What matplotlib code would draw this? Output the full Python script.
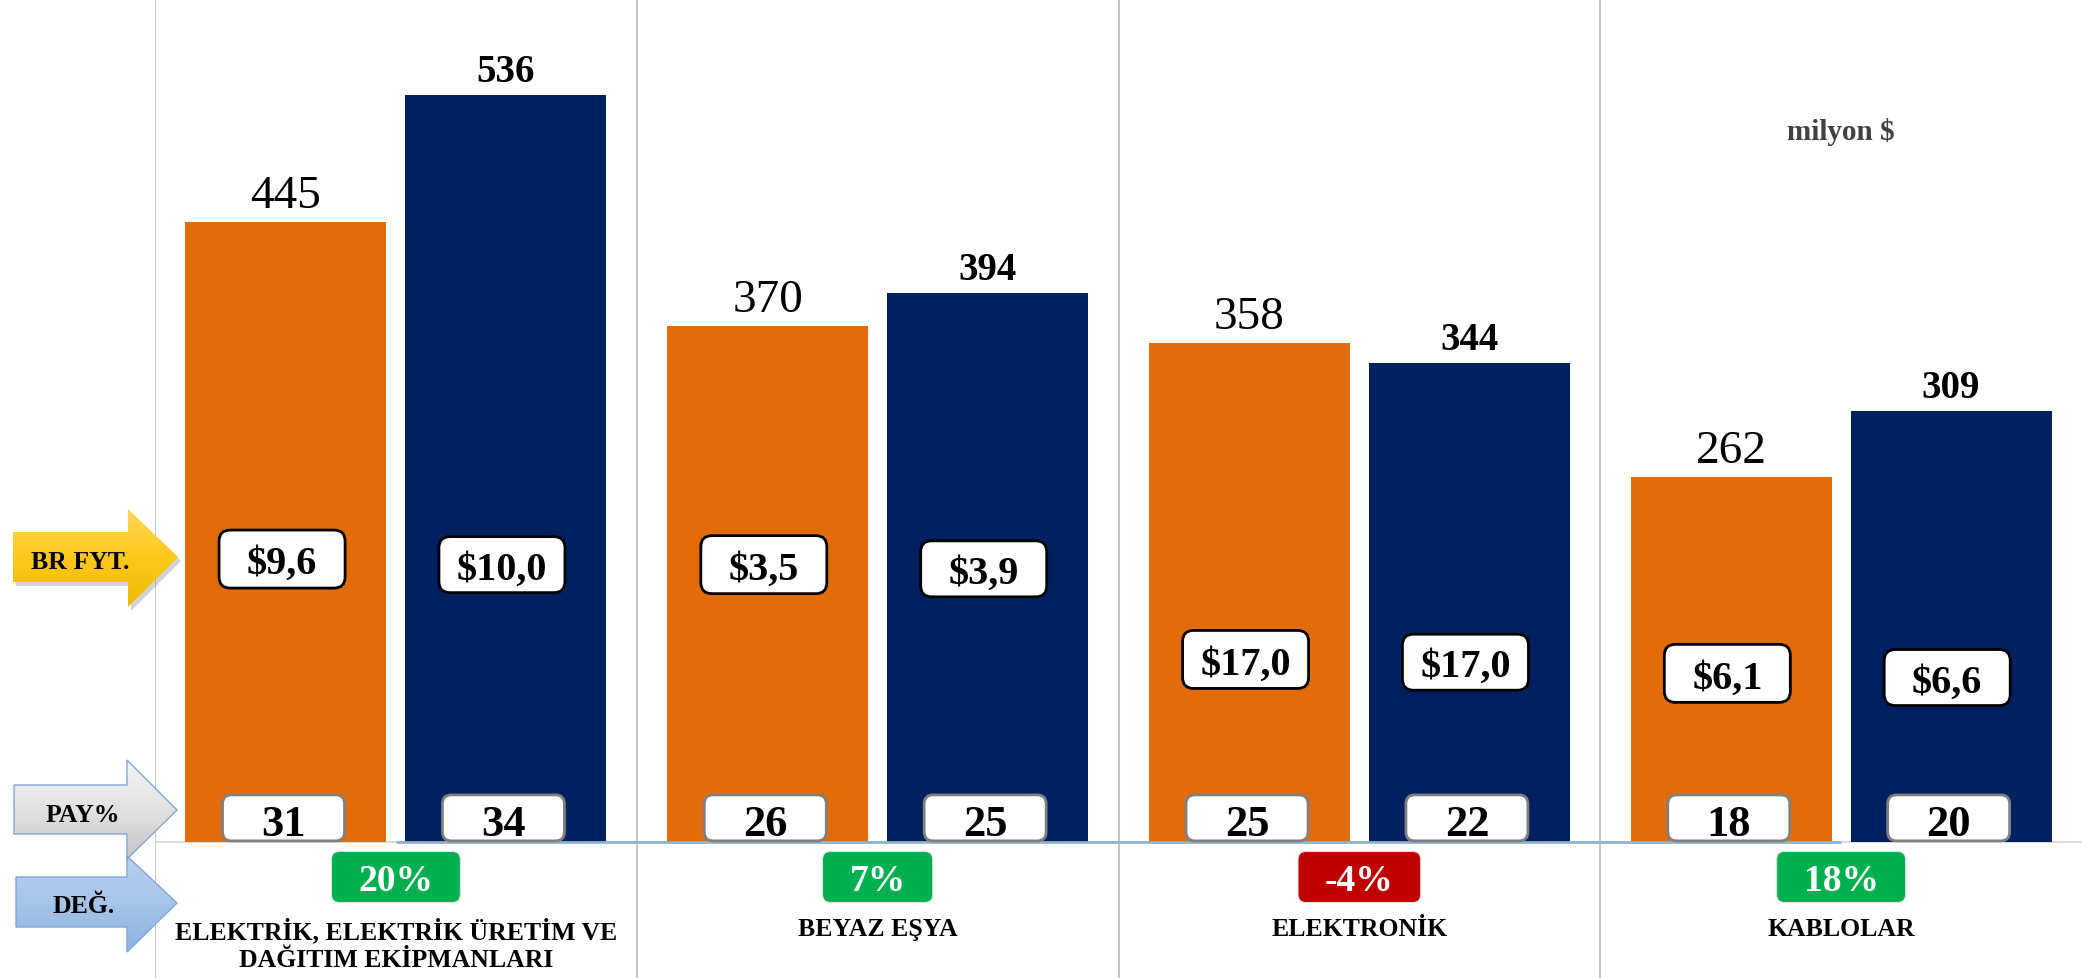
import numpy as np
import matplotlib
matplotlib.use("Agg")
import matplotlib.pyplot as plt
from matplotlib.patches import FancyBboxPatch, Polygon
from matplotlib.colors import LinearSegmentedColormap

# ---------------- data ----------------
categories = ["ELEKTRİK, ELEKTRİK ÜRETİM VE\nDAĞITIM EKİPMANLARI", "BEYAZ EŞYA",
              "ELEKTRONİK", "KABLOLAR"]
values_prev = [445, 370, 358, 262]
values_curr = [536, 394, 344, 309]
unit_price_prev = [9.6, 3.5, 17.0, 6.1]
unit_price_curr = [10.0, 3.9, 17.0, 6.6]
share_prev = [31, 26, 25, 18]
share_curr = [34, 25, 22, 20]
change_pct = [20, 7, -4, 18]
unit_note = "milyon $"
row_labels = ["BR FYT.", "PAY%", "DEĞ."]

# ---------------- layout (positions of label boxes, data units) ----------------
price_y_prev = [203, 199, 131, 121]
price_y_curr = [199, 196, 129, 118]
share_y = 17.3
change_y = -25.1

W, H = 2082, 979
SERIF = ["Liberation Serif", "DejaVu Serif"]
ORANGE = "#E36C0A"
NAVY = "#002060"

fig = plt.figure(figsize=(W / 100, H / 100), dpi=100)
ax = fig.add_axes([155 / W, 0, 1 - 155 / W, 1])
ax.set_xlim(-0.5, 3.5)
ax.set_ylim(-97.58, 604.86)
ax.axis("off")

x = np.arange(len(categories))
bw = 0.417
off = 0.2282

ax.bar(x - off, values_prev, width=bw, color=ORANGE, zorder=2)
ax.bar(x + off, values_curr, width=bw, color=NAVY, zorder=2)

# separators and baselines
for b in np.arange(-0.5, 3.5, 1.0):
    ax.axvline(b, color="#BFBFBF", lw=1.3, zorder=1)
ax.axhline(0, color="#D9D9D9", lw=1.3, zorder=1)
ax.plot([x[0], x[-1]], [0, 0], color="#8EB4CB", lw=2, zorder=3, solid_capstyle="butt")

# pixel scale
p0 = ax.transData.transform((0, 0))
p1 = ax.transData.transform((1, 1))
pxx = p1[0] - p0[0]
pxy = p1[1] - p0[1]


def rbox(xc, yc, w_px, h_px, r_px, fc, ec, lw, z):
    w = w_px / pxx
    h = h_px / pxy
    p = FancyBboxPatch((xc - w / 2, yc - h / 2), w, h,
                       boxstyle=f"round,pad=0,rounding_size={r_px / pxx}",
                       mutation_aspect=pxx / pxy, fc=fc, ec=ec, lw=lw, zorder=z)
    ax.add_patch(p)
    return p


# value labels
for xi, v in zip(x, values_prev):
    ax.annotate(f"{v}", (xi - off, v), xytext=(0, 15), textcoords="offset pixels",
                ha="center", va="baseline", fontsize=34, family=SERIF, color="black")
for xi, v in zip(x, values_curr):
    ax.annotate(f"{v}", (xi + off, v), xytext=(0, 14), textcoords="offset pixels",
                ha="center", va="baseline", fontsize=28, family=SERIF,
                fontweight="bold", color="black")


def fmt_price(p):
    return "$" + f"{p:.1f}".replace(".", ",")


# unit price boxes
for xi, p, yy in zip(x, unit_price_prev, price_y_prev):
    rbox(xi - off - 0.008, yy, 126, 58, 11, "white", "black", 2.0, 4)
    ax.text(xi - off - 0.008, yy, fmt_price(p), ha="center", va="center_baseline",
            fontsize=29, fontweight="bold", family=SERIF, zorder=5)
for xi, p, yy in zip(x, unit_price_curr, price_y_curr):
    rbox(xi + off - 0.008, yy, 126, 56, 11, "white", "black", 2.0, 4)
    ax.text(xi + off - 0.008, yy, fmt_price(p), ha="center", va="center_baseline",
            fontsize=29, fontweight="bold", family=SERIF, zorder=5)

# share boxes
for xs, vals in ((x - off, share_prev), (x + off, share_curr)):
    for xi, s in zip(xs, vals):
        rbox(xi - 0.005, share_y, 122, 46, 9, "white", "#7F7F7F", 2.0, 4)
        ax.text(xi - 0.005, share_y - 1.5, f"{s}", ha="center", va="center_baseline",
                fontsize=32, fontweight="bold", family=SERIF, zorder=5)

# change boxes
fig.canvas.draw()
rend = fig.canvas.get_renderer()
for xi, c in zip(x, change_pct):
    t = ax.text(xi, change_y, f"{c}%", ha="center", va="center_baseline",
                fontsize=27, fontweight="bold", family=SERIF, color="white", zorder=6)
    wpx = t.get_window_extent(rend).width
    rbox(xi, change_y, wpx + 54, 51, 8, "#00B050" if c >= 0 else "#C00000",
         "#E0E0E0", 0.8, 5)

# category labels
for xi, c in zip(x, categories):
    ax.text(xi, -54.0, c, ha="center", va="top", fontsize=18.5, fontweight="bold",
            family=SERIF, linespacing=1.3, zorder=5)

# unit note
ax.text(x[-1], (843 - 132) / pxy, unit_note, ha="center", va="center",
        fontsize=21, fontweight="bold", family=SERIF, color="#404040")

# ---------------- left arrows (overlay in pixel coords) ----------------
ov = fig.add_axes([0, 0, 1, 1], facecolor="none")
ov.axis("off")


def arrow_pts(x0, yt, yb, xh, yht, yhb, xt, yc):
    return [(x0, yt), (xh, yt), (xh, yht), (xt, yc), (xh, yhb), (xh, yb), (x0, yb)]


def grad_arrow(pts, c_top, c_mid, c_bot, ec, shadow=False):
    if shadow:
        sp = [(px + 3, py + 4) for px, py in pts]
        ov.add_patch(Polygon(sp, closed=True, fc="#808080", ec="none", alpha=0.35, zorder=1))
    poly = Polygon(pts, closed=True, fc="none", ec=ec, lw=1.0, zorder=3)
    ov.add_patch(poly)
    xs, ys = zip(*pts)
    grad = np.linspace(0, 1, 256).reshape(-1, 1)
    cmap = LinearSegmentedColormap.from_list("g", [c_top, c_mid, c_bot])
    im = ov.imshow(grad, extent=(min(xs), max(xs), max(ys), min(ys)), cmap=cmap,
                   aspect="auto", origin="upper", zorder=2, interpolation="bilinear")
    im.set_clip_path(poly)


grad_arrow(arrow_pts(13, 533, 583, 128, 510, 608, 178, 558),
           "#FFD75A", "#FFC81A", "#F2B800", "none", shadow=True)
grad_arrow(arrow_pts(14, 786, 835, 127, 761, 860, 177, 811),
           "#F4F4F4", "#E2E2E2", "#C4C4C4", "#7FA7D4")
grad_arrow(arrow_pts(16, 878, 928, 127, 857, 953, 177, 904),
           "#B9D0EE", "#A6C3E9", "#8DB3E2", "#7FA7D4")

ov.set_xlim(0, W)
ov.set_ylim(H, 0)

for lbl, (tx, ty) in zip(row_labels, [(80, 560), (83, 813), (84, 904)]):
    ov.text(tx, ty, lbl, ha="center", va="center_baseline", fontsize=18.5,
            fontweight="bold", family=SERIF, zorder=5)

fig.savefig("out.png", dpi=100)
